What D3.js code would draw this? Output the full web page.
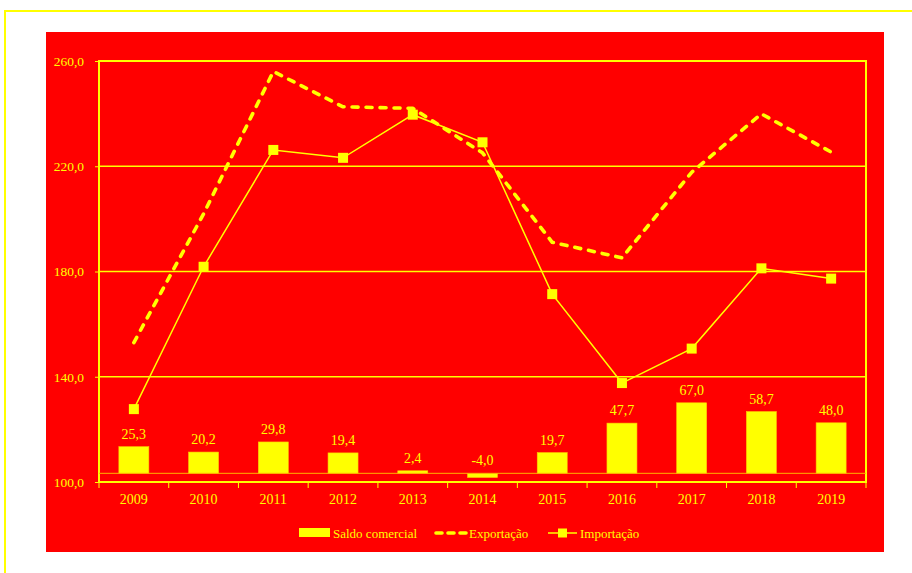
<!DOCTYPE html>
<html lang="pt">
<head>
<meta charset="UTF-8">
<title>Balança comercial</title>
<script src="https://d3js.org/d3.v7.min.js"></script>
<style>
  body { margin: 0; background: #fff; }
  svg text { font-family: "Liberation Serif", "DejaVu Serif", serif; fill: #ffff00; }
</style>
</head>
<body>
<div id="chart"></div>
<script>
const years = ["2009","2010","2011","2012","2013","2014","2015","2016","2017","2018","2019"];
const saldo = [25.3, 20.2, 29.8, 19.4, 2.4, -4.0, 19.7, 47.7, 67.0, 58.7, 48.0];
const exportacao = [153.0, 201.9, 256.0, 242.6, 242.0, 225.1, 191.1, 185.2, 217.7, 239.9, 225.4];
const importacao = [127.7, 181.8, 226.2, 223.2, 239.6, 229.1, 171.4, 137.6, 150.7, 181.2, 177.3];
const yTicks = [100, 140, 180, 220, 260];

const W = 912, H = 573;
const yellow = "#ffff00", red = "#ff0000";
const fmt = v => d3.format(".1f")(v).replace(".", ",").replace("−", "-");

const svg = d3.select("#chart").append("svg")
    .attr("width", W).attr("height", H);

// outer frame
svg.append("path")
    .attr("d", `M5,${H} L5,11 L${W},11`)
    .attr("fill", "none").attr("stroke", yellow).attr("stroke-width", 2);

// red chart area
svg.append("rect")
    .attr("x", 46).attr("y", 32).attr("width", 838).attr("height", 520)
    .attr("fill", red);

const plot = { left: 99, top: 61, right: 866, bottom: 482 };

const x = d3.scaleBand().domain(years).range([plot.left, plot.right]);
const y = d3.scaleLinear().domain([100, 260]).range([plot.bottom, plot.top]);
// secondary (hidden) axis for the bars
const y2 = d3.scaleLinear().domain([-8.25, 391.75]).range([plot.bottom, plot.top]);

// gridlines
svg.append("g").selectAll("line")
    .data(yTicks.slice(1, -1))
    .join("line")
    .attr("x1", plot.left).attr("x2", plot.right)
    .attr("y1", d => y(d)).attr("y2", d => y(d))
    .attr("stroke", yellow).attr("stroke-width", 1.3);

// plot border
svg.append("rect")
    .attr("x", plot.left).attr("y", plot.top)
    .attr("width", plot.right - plot.left).attr("height", plot.bottom - plot.top)
    .attr("fill", "none").attr("stroke", yellow).attr("stroke-width", 2);

// y axis
const yAxis = svg.append("g")
    .attr("transform", `translate(${plot.left},0)`)
    .call(d3.axisLeft(y).tickValues(yTicks).tickSize(4).tickPadding(11).tickFormat(fmt));
yAxis.select(".domain").remove();
yAxis.selectAll("line").attr("stroke", yellow);
yAxis.selectAll("text").attr("font-size", 13.5).attr("fill", yellow);

// x axis ticks at category boundaries
svg.append("g").selectAll("line")
    .data(years.concat(["end"]))
    .join("line")
    .attr("x1", (d, i) => plot.left + i * x.step())
    .attr("x2", (d, i) => plot.left + i * x.step())
    .attr("y1", plot.bottom).attr("y2", plot.bottom + 6)
    .attr("stroke", yellow).attr("stroke-width", 1);

svg.append("g").selectAll("text")
    .data(years)
    .join("text")
    .attr("x", d => x(d) + x.bandwidth() / 2)
    .attr("y", plot.bottom + 22)
    .attr("text-anchor", "middle")
    .attr("font-size", 14)
    .text(d => d);

// bars
const barW = 30;
svg.append("g").selectAll("rect")
    .data(saldo)
    .join("rect")
    .attr("x", (d, i) => x(years[i]) + x.bandwidth() / 2 - barW / 2)
    .attr("y", d => Math.min(y2(d), y2(0)))
    .attr("width", barW)
    .attr("height", d => Math.abs(y2(d) - y2(0)))
    .attr("fill", yellow)
    .attr("stroke", "#ffc800").attr("stroke-width", 0.6);

// zero line of bar axis
svg.append("line")
    .attr("x1", plot.left).attr("x2", plot.right)
    .attr("y1", y2(0)).attr("y2", y2(0))
    .attr("stroke", "#ffb400").attr("stroke-width", 1);

// bar labels
svg.append("g").selectAll("text")
    .data(saldo)
    .join("text")
    .attr("x", (d, i) => x(years[i]) + x.bandwidth() / 2)
    .attr("y", d => Math.min(y2(d), y2(0)) - 8)
    .attr("text-anchor", "middle")
    .attr("font-size", 14)
    .text(d => fmt(d));

const cx = (d, i) => x(years[i]) + x.bandwidth() / 2;

// exportação - dashed
svg.append("path")
    .datum(exportacao)
    .attr("d", d3.line().x(cx).y(d => y(d)))
    .attr("fill", "none").attr("stroke", yellow)
    .attr("stroke-width", 3.6)
    .attr("stroke-dasharray", "6,8")
    .attr("stroke-linecap", "round")
    .attr("stroke-linejoin", "round");

// importação - line with square markers
svg.append("path")
    .datum(importacao)
    .attr("d", d3.line().x(cx).y(d => y(d)))
    .attr("fill", "none").attr("stroke", yellow).attr("stroke-width", 1.5);

svg.append("g").selectAll("rect")
    .data(importacao)
    .join("rect")
    .attr("x", (d, i) => cx(d, i) - 5)
    .attr("y", d => y(d) - 5)
    .attr("width", 10).attr("height", 10)
    .attr("fill", yellow);

// legend
const lg = svg.append("g").attr("transform", "translate(0,533)");
lg.append("rect").attr("x", 299).attr("y", -5).attr("width", 31).attr("height", 9).attr("fill", yellow);
lg.append("text").attr("x", 333).attr("y", 4.5).attr("font-size", 13).text("Saldo comercial");

lg.append("line").attr("x1", 436).attr("x2", 466).attr("y1", 0).attr("y2", 0)
    .attr("stroke", yellow).attr("stroke-width", 3.6)
    .attr("stroke-dasharray", "6,6").attr("stroke-linecap", "round");
lg.append("text").attr("x", 469).attr("y", 4.5).attr("font-size", 13).text("Exportação");

lg.append("line").attr("x1", 548).attr("x2", 577).attr("y1", 0).attr("y2", 0)
    .attr("stroke", yellow).attr("stroke-width", 1.5);
lg.append("rect").attr("x", 558).attr("y", -4.5).attr("width", 9).attr("height", 9).attr("fill", yellow);
lg.append("text").attr("x", 580).attr("y", 4.5).attr("font-size", 13).text("Importação");
</script>
</body>
</html>
